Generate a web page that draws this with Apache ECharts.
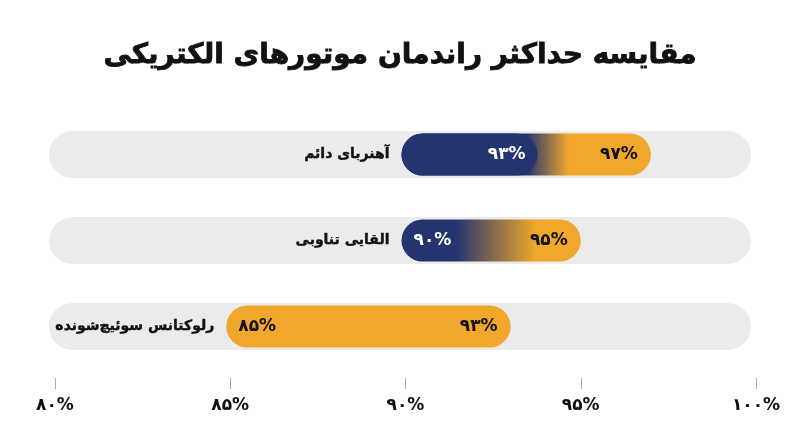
<!DOCTYPE html>
<html>
<head>
<meta charset="utf-8">
<script src="https://cdn.jsdelivr.net/npm/echarts@6/dist/echarts.min.js"></script>
<style>
	html, body { margin: 0; padding: 0; background: #fff; }
	#main { width: 800px; height: 447px; }
</style>
</head>
<body>
<div id="main"></div>
<script>
//داده ها
var categories = ['آهنربای دائم', 'القایی تناوبی', 'رلوکتانس سوئیچ\u200cشونده'];
var barStart = [90, 90, 85];
var lowEff = [93, 90, 85];
var highEff = [97, 95, 93];
var xTicks = [80, 85, 90, 95, 100];

//استایل ها
var blue = '#23346f';
var orange = '#f0a72b';
var fades = [[0.5, 0.67], [0.3, 0.75], null];
var lowColors = ['#fff', '#fff', '#111'];
var font = '"DejaVu Sans", sans-serif';

var faDigits = '۰۱۲۳۴۵۶۷۸۹';
function fa(n) {
	return String(n).replace(/\d/g, function(d) {
		return faDigits[d];
	}) + '%';
}

var rows = [];
for(var i = 0; i < categories.length; i++) {
	rows.push([i, barStart[i], lowEff[i], highEff[i]]);
}

var myChart = echarts.init(document.getElementById('main'));
myChart.setOption({
	title: {
		text: 'مقایسه حداکثر راندمان موتورهای الکتریکی',
		left: 'center',
		top: 37,
		textStyle: {
			color: '#111',
			fontSize: 28,
			fontWeight: 'bold',
			fontFamily: font,
			textBorderColor: '#111',
			textBorderWidth: 0.8
		}
	},
	grid: {
		left: 55,
		right: 44,
		top: 111.5,
		bottom: 77.5
	},
	xAxis: {
		type: 'value',
		min: xTicks[0],
		max: xTicks[xTicks.length - 1],
		interval: 5,
		offset: 8.5,
		splitLine: { show: false },
		axisLine: { show: false },
		axisTick: {
			show: true,
			length: 11,
			lineStyle: { color: '#aaa', width: 1 }
		},
		axisLabel: {
			margin: 19,
			color: '#111',
			fontSize: 17,
			fontWeight: 'bold',
			fontFamily: font,
			formatter: function(v) {
				return fa(v);
			}
		}
	},
	yAxis: {
		type: 'category',
		data: categories,
		inverse: true,
		show: false
	},
	series: [{
		// track
		type: 'custom',
		silent: true,
		data: rows,
		encode: { x: [1, 2, 3], y: 0 },
		renderItem: function(params, api) {
			var i = api.value(0);
			var a = api.coord([xTicks[0], i]);
			var b = api.coord([xTicks[xTicks.length - 1], i]);
			var x0 = a[0] - 6;
			var x1 = b[0] - 5;
			return {
				type: 'rect',
				shape: { x: x0, y: a[1] - 23.5, width: x1 - x0, height: 47, r: 23.5 },
				style: { fill: '#ebebeb' }
			};
		}
	}, {
		type: 'custom',
		silent: true,
		data: rows,
		encode: { x: [1, 2, 3], y: 0 },
		renderItem: function(params, api) {
			var i = api.value(0);
			var s = api.coord([api.value(1), i]);
			var l = api.coord([api.value(2), i]);
			var e = api.coord([api.value(3), i]);
			var x0 = s[0] - 4;
			var y = s[1];
			var h = 42;
			var f = fades[i];
			var fill = orange;
			if(f) {
				fill = new echarts.graphic.LinearGradient(0, 0, 1, 0, [
					{ offset: 0, color: blue },
					{ offset: f[0], color: blue },
					{ offset: f[1], color: orange },
					{ offset: 1, color: orange }
				]);
			}
			var kids = [{
				type: 'rect',
				shape: { x: x0, y: y - h / 2, width: e[0] - x0, height: h, r: h / 2 },
				style: { fill: fill }
			}];
			var lowX = x0 + 12;
			var lowAlign = 'left';
			if(api.value(2) > api.value(1)) {
				var pe = l[0] + 27;
				kids.push({
					type: 'rect',
					shape: { x: x0, y: y - h / 2, width: pe - x0, height: h, r: h / 2 },
					style: { fill: blue }
				});
				lowX = pe - 12;
				lowAlign = 'right';
			}
			// category name
			kids.push({
				type: 'text',
				style: {
					text: categories[i],
					x: x0 - 12,
					y: y,
					align: 'right',
					verticalAlign: 'middle',
					fill: '#111',
					font: 'bold 14px ' + font,
					stroke: '#111',
					lineWidth: 0.4
				}
			});
			kids.push({
				type: 'text',
				style: {
					text: fa(api.value(2)),
					x: lowX,
					y: y,
					align: lowAlign,
					verticalAlign: 'middle',
					fill: lowColors[i],
					font: 'bold 17px ' + font
				}
			});
			kids.push({
				type: 'text',
				style: {
					text: fa(api.value(3)),
					x: e[0] - 13,
					y: y,
					align: 'right',
					verticalAlign: 'middle',
					fill: '#111',
					font: 'bold 17px ' + font
				}
			});
			return { type: 'group', children: kids };
		}
	}]
});
</script>
</body>
</html>
